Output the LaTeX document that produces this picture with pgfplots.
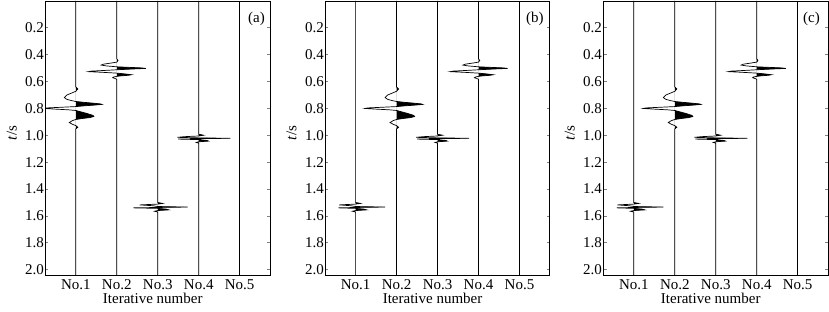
\documentclass[border=0pt]{standalone}
\usepackage{fontspec}
\setmainfont{Liberation Serif}
\usepackage{pgfplots}
\usepackage{pgfplotstable}
\pgfplotsset{compat=1.18}

% wide wavelet (t, amplitude, positive part)
\pgfplotstableread{
t a p
0 0 0
0.640 0 0
0.655 0.05 0.05
0.672 0 0
0.685 -0.10 0
0.700 -0.22 0
0.719 -0.28 0
0.732 -0.22 0
0.742 -0.10 0
0.748 0 0
0.754 0.18 0.18
0.760 0.40 0.40
0.766 0.60 0.60
0.770 0.64 0.64
0.775 0.45 0.45
0.781 0.18 0.18
0.786 0 0
0.791 -0.35 0
0.796 -0.70 0
0.800 -0.77 0
0.805 -0.50 0
0.810 -0.18 0
0.815 0 0
0.825 0.12 0.12
0.838 0.28 0.28
0.852 0.42 0.42
0.860 0.44 0.44
0.868 0.34 0.34
0.875 0.15 0.15
0.882 0 0
0.890 -0.08 0
0.905 -0.16 0
0.918 -0.08 0
0.928 0 0
0.940 0.05 0.05
0.952 0 0
2.05 0 0
}\wone
% medium wavelet
\pgfplotstableread{
t a p
0 0 0
0.430 0 0
0.443 0.03 0.03
0.455 0 0
0.462 -0.14 0
0.470 -0.32 0
0.477 -0.38 0
0.483 -0.26 0
0.490 0 0
0.494 0.30 0.30
0.498 0.60 0.60
0.502 0.71 0.71
0.506 0.40 0.40
0.512 0 0
0.517 -0.30 0
0.522 -0.62 0
0.526 -0.69 0
0.531 -0.35 0
0.537 0 0
0.543 0.20 0.20
0.549 0.36 0.36
0.553 0.28 0.28
0.558 0.08 0.08
0.561 0 0
0.566 -0.08 0
0.571 -0.10 0
0.577 -0.04 0
0.583 0 0
2.05 0 0
}\wtwo
% narrow wavelet near 1.02 s
\pgfplotstableread{
t a p
0 0 0
0.992 0 0
0.999 0.12 0.12
1.005 0 0
1.010 -0.35 0
1.015 -0.52 0
1.019 0 0
1.022 0.77 0.77
1.025 0 0
1.028 -0.50 0
1.032 0 0
1.038 0.20 0.20
1.043 0.24 0.24
1.048 0 0
1.053 -0.06 0
1.058 0 0
2.05 0 0
}\wthree
% narrow wavelet near 1.54 s, panel (a)
\pgfplotstableread{
t a p
0 0 0
1.500 0 0
1.507 0.12 0.12
1.512 0 0
1.518 -0.44 0
1.524 -0.12 0
1.530 0 0
1.534 0.73 0.73
1.537 0 0
1.540 -0.60 0
1.544 0 0
1.549 0.20 0.20
1.555 0.27 0.27
1.560 0 0
1.565 -0.08 0
1.571 0 0
2.05 0 0
}\wfoura
% narrow wavelet near 1.54 s, panels (b) and (c)
\pgfplotstableread{
t a p
0 0 0
1.500 0 0
1.507 0.12 0.12
1.512 0 0
1.518 -0.40 0
1.524 -0.12 0
1.530 0 0
1.534 0.72 0.72
1.537 0 0
1.540 -0.42 0
1.544 0 0
1.549 0.20 0.20
1.555 0.27 0.27
1.560 0 0
1.565 -0.08 0
1.571 0 0
2.05 0 0
}\wfourb

\newcommand\lfont{\fontsize{15}{18}\selectfont}
\pgfplotsset{
  panel/.style={
    width=224.5pt, height=274.7pt, scale only axis, anchor=south west,
    xmin=0.26, xmax=5.74, ymin=0, ymax=2.045, y dir=reverse,
    xtick={1,2,3,4,5}, xticklabels={No.1,No.2,No.3,No.4,No.5},
    ytick={0.2,0.4,0.6,0.8,1.0,1.2,1.4,1.6,1.8,2.0},
    tick label style={font=\lfont},
    yticklabel style={xshift=2pt, /pgf/number format/.cd,fixed,fixed zerofill,precision=1},
    /pgf/number format/assume math mode=true,
    label style={font=\lfont},
    major tick length=3pt, tick align=inside,
    xtick style={draw=none},
    ytick style={line width=0.8pt},
    axis line style={line width=0.9pt},
    xlabel={Iterative number},
    xlabel style={xshift=-5pt, yshift=3pt},
    ylabel={\textit{t}/s},
    every axis y label/.style={at={(axis description cs:0,0.52)}, xshift=-33.8pt, anchor=center, rotate=90, font=\lfont},
  },
  tr/.style={black, line width=0.7pt, no marks},
  fl/.style={fill=black, draw=none, no marks},
}
\newcommand\wig[2]{%
  \addplot[fl] table[x expr=\thisrow{p}+#2, y=t] {#1} -- cycle;
  \addplot[tr] table[x expr=\thisrow{a}+#2, y=t] {#1};
}

\begin{document}
\begin{tikzpicture}
\path[use as bounding box] (0,0) rectangle (829pt,312pt);
% (a)
\begin{axis}[panel, at={(45.5pt,36.3pt)}]
\wig{\wone}{1}
\wig{\wtwo}{2}
\wig{\wfoura}{3}
\wig{\wthree}{4}
\addplot[tr] coordinates {(5,0) (5,2.05)};
\node[anchor=north east, inner sep=0pt, font=\lfont] at (axis description cs:1,1) [xshift=-5pt, yshift=-11pt] {(a)};
\end{axis}
% (b)
\begin{axis}[panel, at={(325.3pt,36.3pt)}]
\wig{\wfourb}{1}
\wig{\wone}{2}
\wig{\wthree}{3}
\wig{\wtwo}{4}
\addplot[tr] coordinates {(5,0) (5,2.05)};
\node[anchor=north east, inner sep=0pt, font=\lfont] at (axis description cs:1,1) [xshift=-6pt, yshift=-11pt] {(b)};
\end{axis}
% (c)
\begin{axis}[panel, at={(603.5pt,36.3pt)}]
\wig{\wfourb}{1}
\wig{\wone}{2}
\wig{\wthree}{3}
\wig{\wtwo}{4}
\addplot[tr] coordinates {(5,0) (5,2.05)};
\node[anchor=north east, inner sep=0pt, font=\lfont] at (axis description cs:1,1) [xshift=-8pt, yshift=-11pt] {(c)};
\end{axis}
\end{tikzpicture}
\end{document}
